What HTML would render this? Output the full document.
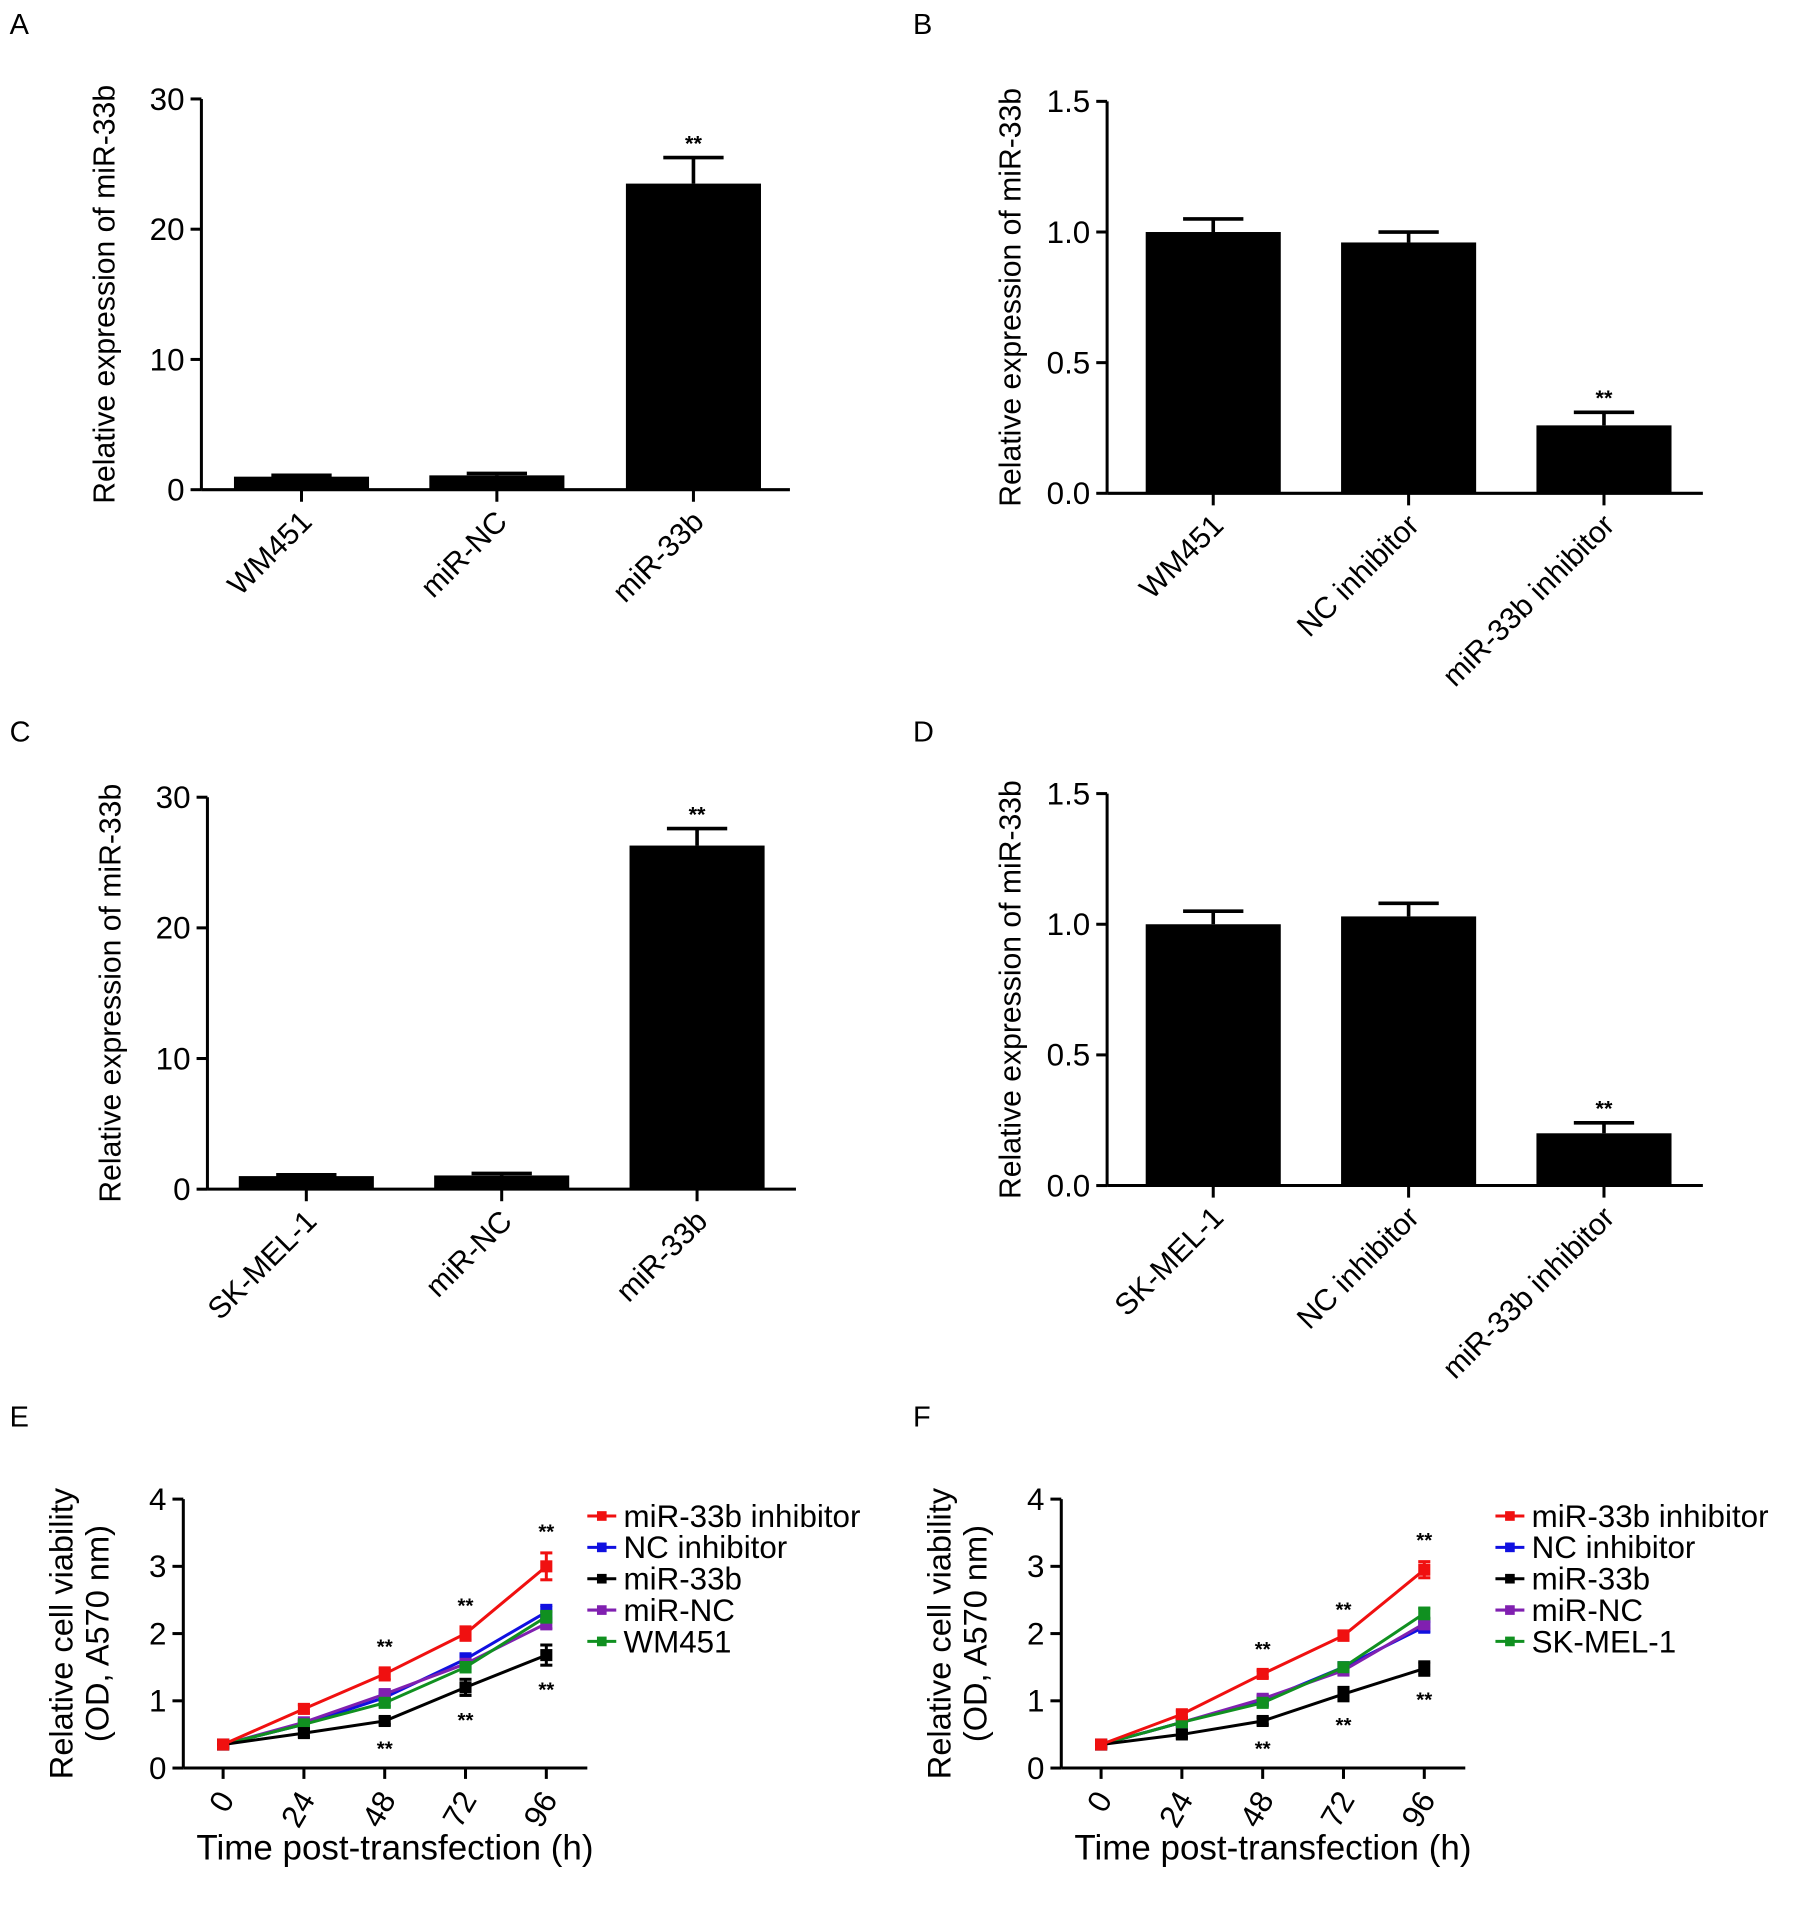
<!DOCTYPE html>
<html><head><meta charset="utf-8"><style>
body{margin:0;background:#fff}
svg{display:block;font-family:"Liberation Sans",Arial,sans-serif}
</style></head><body>
<svg id="fig" width="1809" height="1908" viewBox="0 0 1500 1582" xmlns="http://www.w3.org/2000/svg"></svg>
<script>
// ---- data ----
const catsA = ["WM451","miR-NC","miR-33b"];
const valsA = [1.0,1.1,23.5];
const errA = [0.1,0.15,2.0];
const catsB = ["WM451","NC inhibitor","miR-33b inhibitor"];
const valsB = [1.0,0.96,0.26];
const errB = [0.05,0.04,0.05];
const catsC = ["SK-MEL-1","miR-NC","miR-33b"];
const valsC = [1.0,1.05,26.3];
const errC = [0.1,0.15,1.3];
const catsD = ["SK-MEL-1","NC inhibitor","miR-33b inhibitor"];
const valsD = [1.0,1.03,0.2];
const errD = [0.05,0.05,0.04];
const ticks30 = [0,10,20,30];
const ticks15 = ["0.0","0.5","1.0","1.5"];
const timePts = [0,24,48,72,96];
const ticks4 = [0,1,2,3,4];
const namesE = ["miR-33b inhibitor","NC inhibitor","miR-33b","miR-NC","WM451"];
const namesF = ["miR-33b inhibitor","NC inhibitor","miR-33b","miR-NC","SK-MEL-1"];
const colors = ["#f01010","#1010e0","#000000","#8020b0","#109020"];
const E_red = [0.35,0.88,1.4,2.0,3.0];
const E_blue = [0.35,0.65,1.05,1.62,2.32];
const E_black = [0.35,0.52,0.7,1.2,1.68];
const E_purple = [0.35,0.68,1.1,1.55,2.15];
const E_green = [0.35,0.65,0.97,1.5,2.25];
const E_err = [[0.04,0.06,0.09,0.1,0.2],[0.04,0.04,0.05,0.08,0.1],[0.04,0.05,0.05,0.12,0.15],[0.04,0.04,0.05,0.06,0.08],[0.04,0.04,0.05,0.07,0.08]];
const F_red = [0.35,0.8,1.4,1.97,2.95];
const F_blue = [0.35,0.68,1.0,1.5,2.1];
const F_black = [0.35,0.5,0.7,1.1,1.48];
const F_purple = [0.35,0.68,1.03,1.45,2.15];
const F_green = [0.35,0.68,0.97,1.5,2.3];
const F_err = [[0.04,0.05,0.05,0.07,0.12],[0.04,0.04,0.05,0.06,0.08],[0.04,0.05,0.05,0.1,0.1],[0.04,0.04,0.05,0.06,0.08],[0.04,0.04,0.05,0.06,0.08]];
const starsUpIdx = [2,3,4];
const starsDownIdx = [2,3,4];

const NS="http://www.w3.org/2000/svg";
const svg=document.getElementById('fig');
function el(tag,attrs,parent,txt){const e=document.createElementNS(NS,tag);for(const k in attrs)e.setAttribute(k,attrs[k]);if(txt!==undefined)e.textContent=txt;(parent||svg).appendChild(e);return e;}

function letter(t,x,y){const e=el('text',{x:x,y:y,'font-size':24},svg,t);

}

function barPanel(id,cats,vals,errs,tickLbls,ymax,ax,y0,y1,xend,centers,bw,starLbl){
  const g=el('g',{});
  
  
  const ys=v=>y0-(v/ymax)*(y0-y1);
  el('line',{x1:ax,y1:y1,x2:ax,y2:y0,stroke:'#000','stroke-width':2.5},g);
  el('line',{x1:ax,y1:y0,x2:xend,y2:y0,stroke:'#000','stroke-width':2.5},g);
  tickLbls.forEach((t,i)=>{const v=ymax*i/(tickLbls.length-1);const y=ys(v);
    el('line',{x1:ax-9,y1:y,x2:ax,y2:y,stroke:'#000','stroke-width':2.5},g);
    const tx=el('text',{x:ax-14,y:y+9,'font-size':26,'text-anchor':'end'},g,t);
    
    });
  const yt=el('text',{x:0,y:0,'font-size':25,'text-anchor':'middle',transform:`translate(${ax-72},${(y0+y1)/2}) rotate(-90)`},g,'Relative expression of miR-33b');
  
  
  cats.forEach((c,i)=>{const cx=centers[i];const top=ys(vals[i]);const et=ys(vals[i]+errs[i]);
    el('line',{x1:cx,y1:top,x2:cx,y2:et,stroke:'#000','stroke-width':3},g);
    el('line',{x1:cx-25,y1:et,x2:cx+25,y2:et,stroke:'#000','stroke-width':3},g);
    const r=el('rect',{x:cx-bw/2,y:top,width:bw,height:y0-top,fill:'#000'},g);
    
    
    el('line',{x1:cx,y1:y0,x2:cx,y2:y0+10,stroke:'#000','stroke-width':2.5},g);
    const lt=el('text',{x:0,y:0,'font-size':25,'text-anchor':'end',transform:`translate(${cx+10},${y0+28}) rotate(-45)`},g,c);
    
    
    if(i===starLbl){const s=el('text',{x:cx,y:et-6,'font-size':18,'text-anchor':'middle','font-weight':'bold'},g,'**');
      
      }
  });
}

function linePanel(id,series,errs,names,ax,y0,y1,xend,xs0,xs1,legX){
  const g=el('g',{});
  
  
  const ys=v=>y0-(v/4)*(y0-y1);
  const xs=t=>xs0+(t/96)*(xs1-xs0);
  el('line',{x1:ax,y1:y1,x2:ax,y2:y0,stroke:'#000','stroke-width':2.5},g);
  el('line',{x1:ax,y1:y0,x2:xend,y2:y0,stroke:'#000','stroke-width':2.5},g);
  ticks4.forEach(v=>{const y=ys(v);
    el('line',{x1:ax-9,y1:y,x2:ax,y2:y,stroke:'#000','stroke-width':2.5},g);
    const t=el('text',{x:ax-14,y:y+9,'font-size':26,'text-anchor':'end'},g,String(v));
    
    });
  timePts.forEach(tp=>{const x=xs(tp);
    el('line',{x1:x,y1:y0,x2:x,y2:y0+9,stroke:'#000','stroke-width':2.5},g);
    const t=el('text',{x:0,y:0,'font-size':26,'text-anchor':'end',transform:`translate(${x+10},${y0+26}) rotate(-60)`},g,String(tp));
    
    });
  const xt=el('text',{x:(ax+xend)/2+8,y:y0+76,'font-size':29,'text-anchor':'middle'},g,'Time post-transfection (h)');
  
  
  const yt=el('text',{x:0,y:0,'font-size':27,'text-anchor':'middle'},g);
  yt.setAttribute('transform',`translate(${ax-92},${(y0+y1)/2}) rotate(-90)`);
  
  
  el('tspan',{x:0,dy:0},yt,'Relative cell viability');
  el('tspan',{x:0,dy:30},yt,'(OD, A570 nm)');
  const order=[1,3,4,2,0];
  order.forEach(si=>{const s=series[si];const c=colors[si];
    const pts=s.map((v,i)=>xs(timePts[i])+','+ys(v)).join(' ');
    const pl=el('polyline',{points:pts,fill:'none',stroke:c,'stroke-width':2.5},g);
    
    
    s.forEach((v,i)=>{const x=xs(timePts[i]);const e=errs[si][i];
      el('line',{x1:x,y1:ys(v-e),x2:x,y2:ys(v+e),stroke:c,'stroke-width':2.5},g);
      el('line',{x1:x-5,y1:ys(v-e),x2:x+5,y2:ys(v-e),stroke:c,'stroke-width':2.5},g);
      el('line',{x1:x-5,y1:ys(v+e),x2:x+5,y2:ys(v+e),stroke:c,'stroke-width':2.5},g);
      const m=el('rect',{x:x-5,y:ys(v)-5,width:10,height:10,fill:c},g);
      
      });
  });
  starsUpIdx.forEach(i=>{const x=xs(timePts[i]);const y=ys(series[0][i]+errs[0][i])-12;
    const s=el('text',{x:x,y:y,'font-size':17,'text-anchor':'middle','font-weight':'bold'},g,'**');
    
    });
  starsDownIdx.forEach(i=>{const x=xs(timePts[i]);const y=ys(series[2][i]-errs[2][i])+26;
    const s=el('text',{x:x,y:y,'font-size':17,'text-anchor':'middle','font-weight':'bold'},g,'**');
    
    });
  const lg=el('g',{},g);
  
  
  names.forEach((n,i)=>{const y=1257+i*26;
    const it=el('g',{},lg);
    
    
    el('line',{x1:legX,y1:y,x2:legX+24,y2:y,stroke:colors[i],'stroke-width':2.5},it);
    el('rect',{x:legX+8,y:y-4,width:8,height:8,fill:colors[i]},it);
    el('text',{x:legX+30,y:y+9,'font-size':26},it,n);});
}

letter('A',8,28);letter('B',757,28);letter('C',8,615);letter('D',757,615);letter('E',8,1183);letter('F',757,1183);
barPanel('a',catsA,valsA,errA,ticks30.map(String),30,167,406,82,655,[250,412,575],112,2);
barPanel('b',catsB,valsB,errB,ticks15,1.5,918,409,84,1412,[1006,1168,1330],112,2);
barPanel('c',catsC,valsC,errC,ticks30.map(String),30,172,986,661,660,[254,416,578],112,2);
barPanel('d',catsD,valsD,errD,ticks15,1.5,918,983,658,1412,[1006,1168,1330],112,2);
linePanel('e',[E_red,E_blue,E_black,E_purple,E_green],E_err,namesE,152,1466,1243,487,185,453,487);
linePanel('f',[F_red,F_blue,F_black,F_purple,F_green],F_err,namesF,880,1466,1243,1215,913,1181,1240);
</script>
</body></html>
